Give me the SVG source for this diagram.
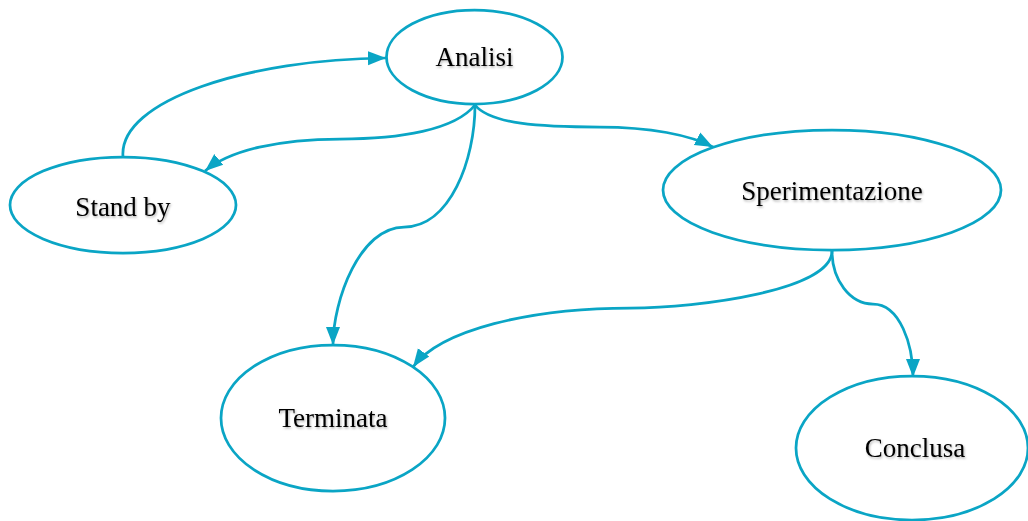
<svg xmlns="http://www.w3.org/2000/svg" width="1028" height="521" viewBox="0 0 1028 521">
<style>
.node ellipse{fill:#fff;stroke:#0aa5c5;stroke-width:2.75}
.node text{font-family:"Liberation Serif","Times New Roman",serif;font-size:27px;fill:#000;text-anchor:middle;filter:url(#sh)}
.edge{fill:none;stroke:#0aa5c5;stroke-width:2.75;marker-end:url(#arr)}
</style>
<defs>
<marker id="arr" markerUnits="userSpaceOnUse" markerWidth="20" markerHeight="16" refX="18" refY="8" orient="auto">
<path d="M0,1 L18,8 L0,15 Z" fill="#0aa5c5"/>
</marker>
<filter id="sh" x="-10%" y="-20%" width="120%" height="150%">
<feDropShadow dx="1" dy="1.5" stdDeviation="1" flood-color="#000" flood-opacity="0.3"/>
</filter>
</defs>
<rect width="1028" height="521" fill="#fff"/>
<g id="analisi" class="node"><ellipse cx="474.5" cy="57" rx="88" ry="47"/><text x="474.5" y="66">Analisi</text></g>
<g id="standby" class="node"><ellipse cx="123" cy="205" rx="113" ry="48"/><text x="123" y="216">Stand by</text></g>
<g id="sperimentazione" class="node"><ellipse cx="832" cy="190" rx="169" ry="60"/><text x="832" y="200">Sperimentazione</text></g>
<g id="terminata" class="node"><ellipse cx="333" cy="418" rx="112" ry="73"/><text x="333" y="427">Terminata</text></g>
<g id="conclusa" class="node"><ellipse cx="912" cy="448" rx="116" ry="72"/><text x="915" y="457">Conclusa</text></g>
<g id="connectors">
<path class="edge" d="M123,157 C118,100 250,59 386,58"/>
<path class="edge" d="M475,105 C455,130 400,139 340,139 C280,139 230,150 205,171"/>
<path class="edge" d="M475,105 C475,160 450,227 404,227 C360,227 333,300 333,345"/>
<path class="edge" d="M475,105 C490,124 540,127 600,127 C650,127 690,135 713,147"/>
<path class="edge" d="M832,251 C832,290 700,308 630,308 C530,308 440,330 413,367"/>
<path class="edge" d="M832,251 C832,280 850,304 873,304 C900,304 913,345 913,377"/>
</g>
</svg>
